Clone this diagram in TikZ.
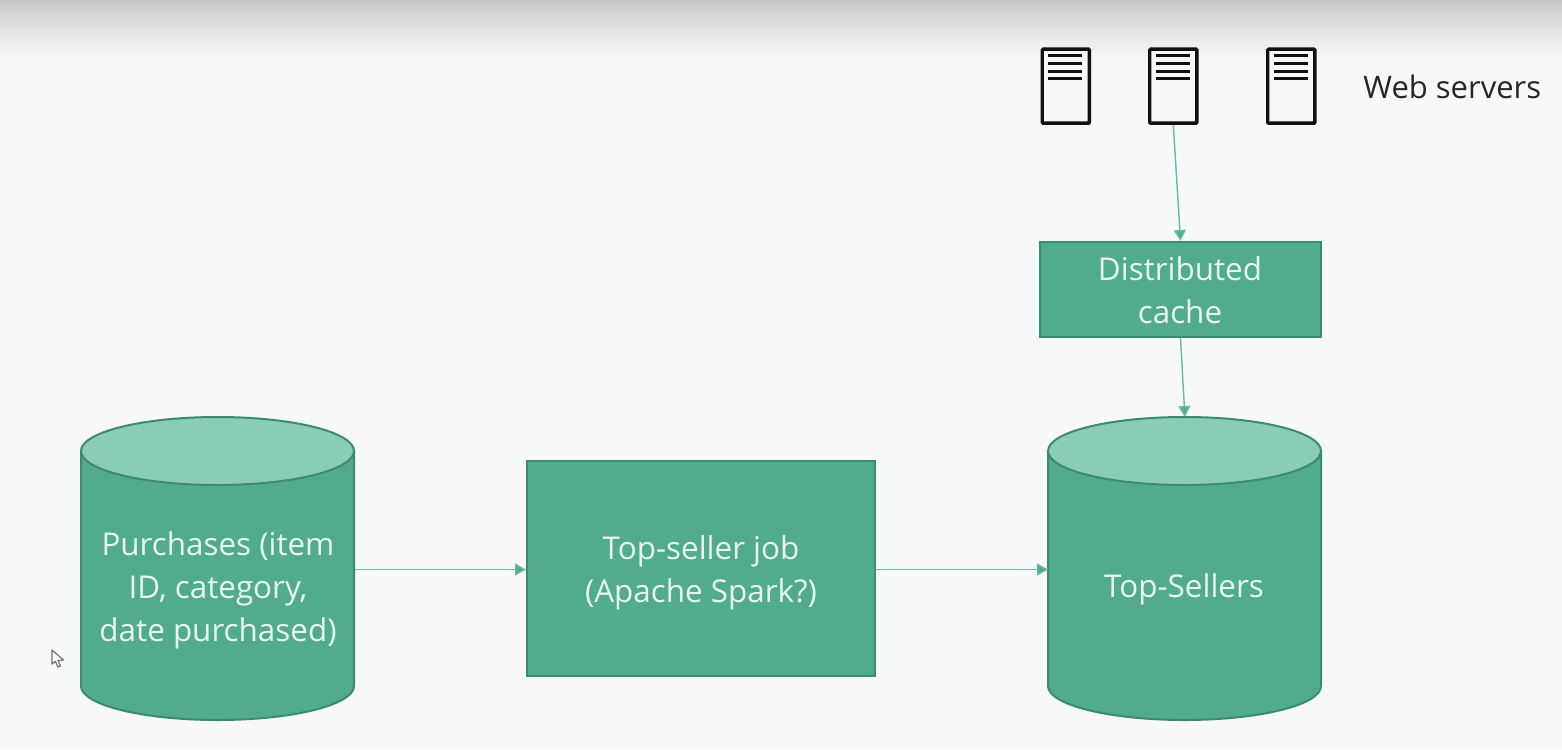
\documentclass[tikz,border=0pt]{standalone}
\usepackage{fontspec}
\setmainfont{Open Sans}
\usetikzlibrary{arrows.meta,backgrounds}
\definecolor{bgc}{HTML}{F7F8FA}
\definecolor{shadea}{HTML}{C6C6C7}
\definecolor{shadeb}{HTML}{E9E9EA}
\definecolor{shadec}{HTML}{F4F4F6}
\definecolor{fillc}{HTML}{50AC8B}
\definecolor{linec}{HTML}{3C8A70}
\definecolor{topc}{HTML}{8ACCB5}
\definecolor{arrowc}{HTML}{6ABBA0}
\definecolor{textc}{HTML}{EAF6F1}
\definecolor{inkc}{HTML}{111111}
\definecolor{labelc}{HTML}{262626}
\tikzset{
  boxnode/.style={draw=linec,line width=1pt,fill=fillc,inner sep=0pt,anchor=north west},
  cylbody/.style={draw=linec,line width=1pt,fill=fillc},
  cyltop/.style={draw=linec,line width=1pt,fill=topc},
  cyltext/.style={text=textc,align=center,font=\fontsize{15.7}{21.5}\selectfont,inner sep=0pt},
  cylanchor/.style={inner sep=0pt,minimum width=136.5pt,minimum height=151.5pt,anchor=north west},
  flow/.style={draw=arrowc,line width=0.7pt,-{Triangle[length=5.5pt,width=6pt,fill=fillc]}},
  serverbox/.style={draw=inkc,line width=1.7pt,rounded corners=0.5pt,fill=bgc,inner sep=0pt,minimum width=23.6pt,minimum height=37pt,anchor=north west},
  serverline/.style={draw=inkc,line width=1.5pt},
}
\newcommand{\cylshape}[2]{% left x, top y in px; width 273, height 303
  \path[cylbody] (#1,#2+34) -- (#1,#2+269) arc[start angle=180,end angle=360,x radius=136.5,y radius=-34] -- (#1+273,#2+34) -- cycle;
  \path[cyltop] (#1+136.5,#2+34) ellipse[x radius=136.5,y radius=34];
}
\newcommand{\srvlines}[1]{%
  \foreach \yy in {56,64,72,79} \draw[serverline] (#1+7.5,\yy) -- (#1+41,\yy);
}
\begin{document}
\begin{tikzpicture}[x=0.5pt,y=-0.5pt]
\useasboundingbox (0,0) rectangle (1562,749);
\fill[bgc] (0,0) rectangle (1562,749);
\shade[top color=shadea,bottom color=shadeb] (0,0) rectangle (1562,36);
\shade[top color=shadeb,bottom color=shadec] (0,36) rectangle (1562,54);
\shade[top color=shadec,bottom color=bgc] (0,54) rectangle (1562,76);
% cylinders
\cylshape{81}{417}
\cylshape{1048}{417}
\node[cylanchor] (purch) at (81,417) {};
\node[cylanchor] (tops) at (1048,417) {};
\node[cyltext] (purchtext) at (218,590) {Purchases (item\\ID, category,\\date purchased)};
\node[cyltext] (topstext) at (1184,589.5) {Top-Sellers};
% boxes
\node[boxnode,minimum width=174pt,minimum height=107.5pt] (job) at (526,460) {};
\node[cyltext] (jobtext) at (701,572.5) {Top-seller job\\(Apache Spark?)};
\node[boxnode,minimum width=140.5pt,minimum height=47.5pt] (cache) at (1039,241) {};
\node[cyltext] (cachetext) at (1180,290) {Distributed\\cache};
% servers
\node[serverbox] (srva) at (1040.5,47.5) {};
\node[serverbox] (srvb) at (1148,47.5) {};
\node[serverbox] (srvc) at (1266,47.5) {};
\srvlines{1040.5}\srvlines{1148.5}\srvlines{1266.5}
\node[text=labelc,font=\fontsize{15.5}{20}\selectfont,inner sep=0pt,anchor=west] (weblabel) at (1363,87) {Web servers};
% connectors
\draw[flow] (srvb.south) -- (cache.north);
\draw[flow] (cache.south) -- (tops.north);
\draw[flow] (purch.east |- 0,569.5) -- (job.west |- 0,569.5);
\draw[flow] (job.east |- 0,569.5) -- (tops.west |- 0,569.5);
% cursor
\draw[draw=black!55,fill=bgc,line width=0.6pt,line join=round] (52,650) -- (52,664) -- (55.5,661.5) -- (58,667) -- (60.5,666) -- (58,660.5) -- (63.5,660) -- cycle;
\end{tikzpicture}
\end{document}
